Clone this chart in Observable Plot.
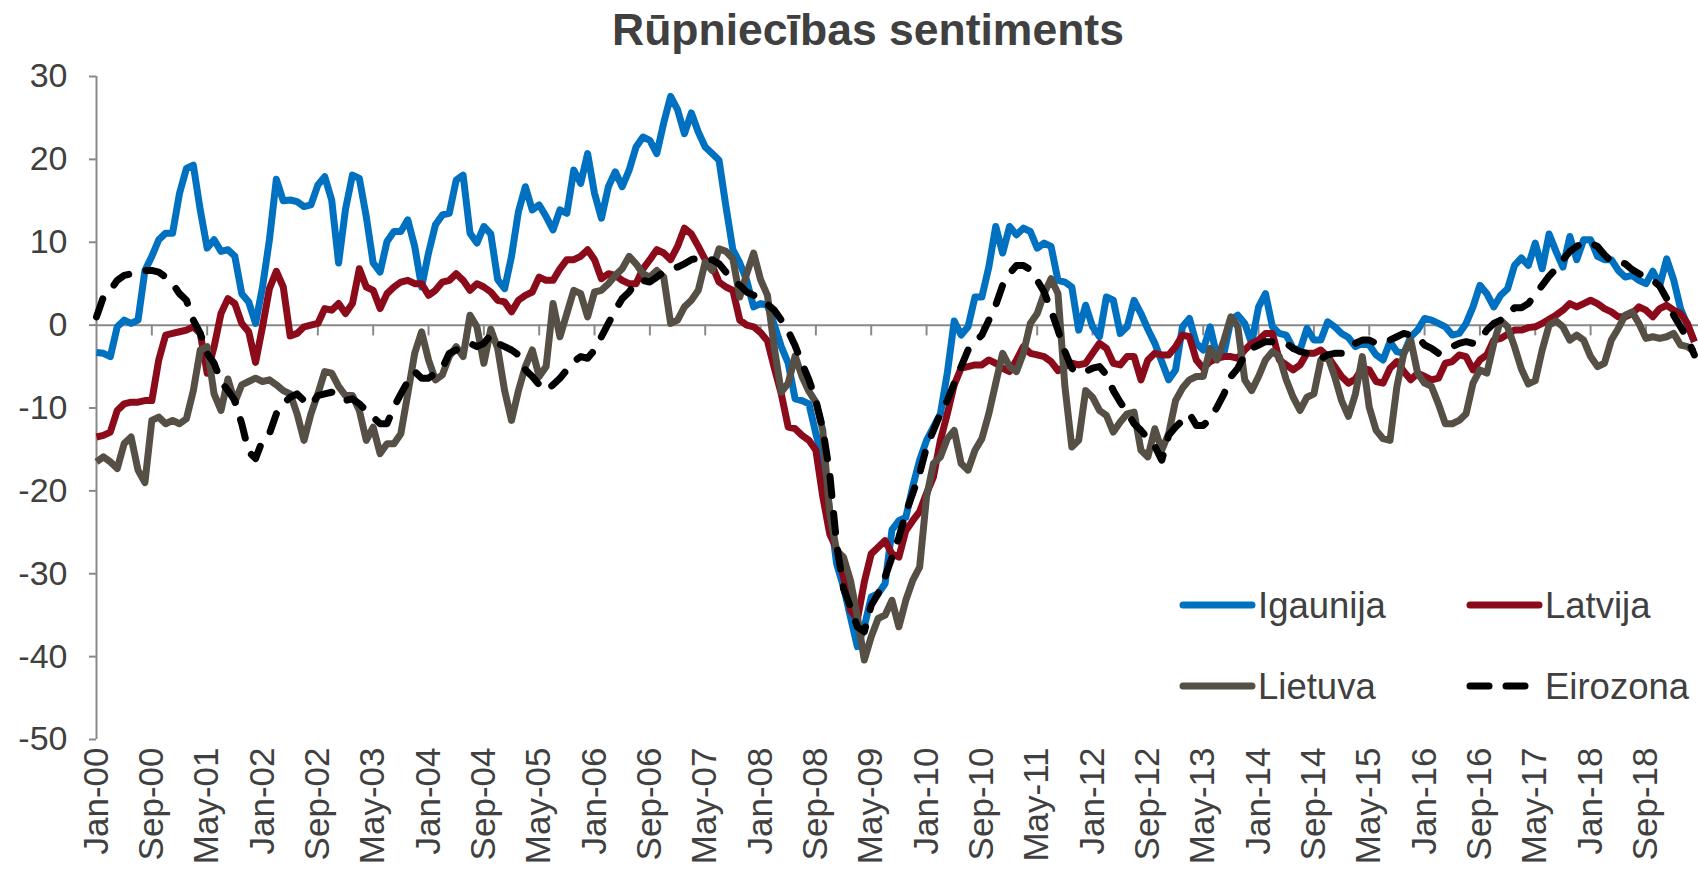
<!DOCTYPE html>
<html><head><meta charset="utf-8">
<script src="https://cdn.jsdelivr.net/npm/d3@7"></script>
<script src="https://cdn.jsdelivr.net/npm/@observablehq/plot@0.6"></script>
<style>
body{margin:0;background:#fff;}
#wrap{position:relative;width:1698px;height:886px;overflow:hidden;font-family:"Liberation Sans",Arial,sans-serif;}
#title{position:absolute;top:8px;left:868px;transform:translateX(-50%);font-size:44.5px;line-height:44.5px;font-weight:bold;color:#404040;white-space:nowrap;}
#legend{position:absolute;left:0;top:0;pointer-events:none;}
</style></head><body><div id="wrap"><div id="title">Rūpniecības sentiments</div></div>
<script>
const seriesNames = ["Igaunija", "Latvija", "Lietuva", "Eirozona"];
const seriesColors = ["#0070C0", "#8B0B1A", "#564F45", "#000000"];
const tickLabels = ["Jan-00","Sep-00","May-01","Jan-02","Sep-02","May-03","Jan-04","Sep-04","May-05","Jan-06","Sep-06","May-07","Jan-08","Sep-08","May-09","Jan-10","Sep-10","May-11","Jan-12","Sep-12","May-13","Jan-14","Sep-14","May-15","Jan-16","Sep-16","May-17","Jan-18","Sep-18"];
const yTicks = [-50,-40,-30,-20,-10,0,10,20,30];

const igaunija = [
-3.3,-3.4,-3.8,-0.2,0.6,0.2,0.6,6.6,8.3,10.3,
11.1,11.1,15.9,18.9,19.3,13.9,9.3,10.3,8.9,9.1,
8.3,3.8,2.8,0.2,4.6,10.3,17.6,15.0,15.1,14.9,
14.3,14.5,16.9,17.9,15.1,7.5,14,18.1,17.7,13.1,
7.5,6.4,10.1,11.3,11.3,12.7,9.5,4.6,8.7,12.1,
13.3,13.5,17.5,18.1,11.1,9.9,11.9,11,5.5,4.4,
8.3,13.7,16.7,13.9,14.5,13.1,11.5,13.9,13.5,18.7,
17.1,20.7,15.9,12.9,16.7,18.5,16.7,18.7,21.5,22.7,
22.3,20.7,24.4,27.6,26,23.1,25.6,23.3,21.5,20.7,
19.9,14.3,9.1,7.5,5.4,2.2,2.6,2.4,0,-2.6,
-4.6,-8.9,-9.1,-9.5,-13.1,-16.3,-22.3,-28.8,-31.6,-35.2,
-38.8,-36.4,-32.8,-32.4,-31.2,-24.7,-23.6,-23.2,-19.5,-16.3,
-13.9,-12.3,-10.7,-5.8,0.5,-1.2,-0.2,3.4,3.4,7,
11.9,8.7,11.9,10.9,11.7,11.3,9.3,9.9,9.5,5.4,
5.2,4.6,-0.6,2.4,-0.2,-1.4,3.4,3,-1,-0.2,
3,1.4,-0.5,-2.2,-4.4,-6.6,-5.4,-0.2,0.8,-2.2,
-3,-0.2,-3.8,-3.4,0.6,1.2,0.2,-2.2,2.2,3.8,
-0.2,-1,-1.2,-2.8,-3,-0.4,-1.8,-1.8,0.4,-0.2,
-1,-1.5,-2.6,-2.2,-2.4,-3.6,-4.2,-2,-3.2,-3.4,
-1.4,-0.6,0.8,0.6,0.2,-0.2,-1.2,-1,0.2,2.2,
4.8,3.8,2.2,3.6,4.4,7.2,8.1,7.2,9.9,6.8,
11,8.9,7,10.7,7.9,10.3,10.3,8.3,7.9,7.9,
6.6,5.8,6,5.4,5,6.5,4.8,8,5.5,2,
0,-2];

const latvija = [
-13.5,-13.3,-12.9,-10.3,-9.5,-9.3,-9.3,-9.1,-9.1,-4.2,
-1.2,-1,-0.8,-0.6,-0.2,-1,-5.8,-2.6,1.4,3.2,
2.6,0.2,-0.8,-4.5,-0.2,4.4,6.5,4.6,-1.3,-1,
-0.2,0,0.2,2,1.8,2.6,1.4,2.6,6.8,4.6,
4.2,2,3.8,4.6,5.2,5.4,5,5,3.6,4.2,
5.2,5.4,6.2,5.4,4.2,5,4.6,4,3,2.8,
1.6,3,3.6,4,5.8,5.4,5.4,6.8,7.9,7.9,
8.3,9.1,7.9,5.6,6.2,6,5.4,5,5,6.8,
7.9,9.1,8.7,7.9,9.5,11.7,11,9.5,7.9,7.2,
5.2,4.6,4.2,0.6,0,-0.2,-0.9,-1.9,-5.2,-8.3,
-12.3,-12.5,-13.3,-13.9,-15.1,-20.7,-25.2,-27,-30.4,-34.4,
-35.5,-31,-27.6,-26.8,-26,-27.6,-28,-24.8,-23.6,-22.5,
-20.3,-18.3,-13.9,-10.7,-7.2,-5.2,-5,-4.8,-4.8,-4.2,
-4.6,-5.2,-5.6,-4.2,-2.6,-3.4,-3.6,-3.8,-4.4,-5.5,
-5,-4.6,-4.8,-4.6,-3.4,-2.2,-2.8,-4.6,-4.8,-3.8,
-3.8,-6.6,-4.2,-3.4,-3.6,-3.6,-2.6,-1.2,-1.4,-4.2,
-5.2,-4.4,-4,-3.8,-3.8,-4,-3,-2.2,-1.8,-1,
-1,-4.2,-4.8,-5.4,-4.8,-3.4,-3.4,-3,-3.8,-5,
-6.2,-7,-6.5,-5.2,-5.4,-6.8,-7,-5.2,-4.4,-5.6,
-6.6,-5.8,-6.2,-6.6,-6.4,-4.6,-4.4,-3.6,-3.8,-5.4,
-4.2,-3.6,-1.8,-1.6,-1.1,-0.6,-0.6,-0.3,-0.2,0.2,
0.7,1.2,1.8,2.6,2.2,2.6,3,2.6,2,1.6,
1,1,1.4,2.2,1.8,1,2,2.4,1.8,1.4,
0.2,-2];

const lietuva = [
-16.5,-15.9,-16.5,-17.3,-14.3,-13.5,-17.5,-19,-11.5,-11.1,
-11.9,-11.5,-11.9,-11.3,-7.9,-3,-2.6,-8.3,-10.3,-6.5,
-9.3,-7.2,-6.8,-6.4,-6.8,-6.6,-7.2,-7.9,-8.3,-10.7,
-13.9,-10.7,-8.3,-5.6,-5.8,-7.4,-8.5,-8.5,-10.3,-13.9,
-12.3,-15.5,-14.3,-14.3,-13.1,-8.3,-3.4,-0.8,-4.2,-6.6,
-6,-3.8,-2.6,-3.8,1.2,-0.2,-4.6,-0.5,-2.8,-7.9,
-11.5,-7.9,-5,-3,-6.2,-5,2.6,-1.4,1.4,4.2,
3.8,1,4,4.2,5,6,6.8,8.3,7.4,6.2,
5.8,6.6,5.8,0.2,0.6,2.2,3,4.2,7.6,6.6,
9.2,8.9,8,3.4,6.2,8.7,5.5,3.6,-2.8,-8.1,
-7,-3.7,-6.2,-8,-9.3,-12.7,-22.7,-27.2,-28,-30.8,
-35.2,-40.4,-37.6,-35.4,-35,-33.2,-36.4,-33.2,-30.8,-29.2,
-20.7,-16.7,-15.9,-13.7,-12.7,-16.7,-17.5,-15.1,-13.7,-10.7,
-7,-3.4,-5,-5.6,-3.4,0.2,1.4,3.8,5.6,3.8,
-7.4,-14.7,-13.9,-7.9,-8.7,-10.3,-10.9,-12.9,-11.7,-10.7,
-10.5,-15.1,-15.9,-12.5,-15.1,-13.1,-9.1,-7.6,-6.6,-6.2,
-6.2,-2.8,-4.2,-1.8,1,-0.2,-6.6,-7.9,-6.2,-4.2,
-3.2,-3.8,-6.6,-8.7,-10.3,-8.7,-8.3,-4.2,-3.8,-6.2,
-9.1,-11,-8.3,-3.8,-9.9,-12.7,-13.7,-13.9,-7.4,-3.4,
-1.8,-5.8,-7,-7.4,-9.5,-11.9,-11.9,-11.5,-10.7,-7,
-5.4,-5.8,-2.2,0.6,-0.2,-2.6,-5.3,-7.1,-6.7,-3,
0,0.5,-0.2,-1.8,-1.2,-1.8,-3.8,-5,-4.6,-1.8,
-0.4,1.2,1.6,0.2,-1.6,-1.4,-1.6,-1.4,-1,-2.4,
-2.6,-3.2];

const eirozona = [
1,3.4,4.2,5.4,6,6.2,6.2,6.6,6.6,6.4,
5.8,5,3.8,3,0.6,-1,-3.4,-4.6,-6.8,-7.9,
-9.1,-11.9,-15.3,-16.1,-13.9,-13.1,-10.7,-9.5,-8.7,-8.3,
-9.1,-9.7,-8.5,-8.3,-8.1,-8.3,-9.1,-8.9,-9.5,-10.3,
-11.1,-11.9,-11.9,-9.9,-8.3,-6.8,-5.6,-6.4,-6.4,-5.8,
-5.2,-3.4,-3,-2.6,-2.2,-2.6,-2.2,-1.2,-2.2,-2.6,
-3,-3.6,-5.4,-6.2,-7.2,-7.9,-7.2,-6.4,-5.4,-4.4,
-3.8,-4,-3,-1.4,0.2,1.8,3.2,4,5.2,5.4,
5.2,5.8,6.4,6.8,7,7.4,7.9,8.1,7.9,7.9,
7.4,6.4,5.4,4.8,4,3.6,3.3,2.5,1.8,0.6,
-0.7,-2.5,-4.6,-6.6,-9.1,-12.5,-17.9,-26.4,-31.8,-34,
-36.4,-37,-33.8,-32.4,-30.4,-28,-25.6,-22.7,-20.3,-17.9,
-14.7,-12.7,-10.7,-9.1,-7,-5,-3,-2,-1.2,0.6,
2.4,4.8,6.2,7.2,7.2,6.7,5.4,4,1.8,-0.6,
-3.2,-5.2,-5.8,-5.6,-5.2,-5,-6,-7.9,-9.3,-10.5,
-11.9,-12.7,-13.7,-14.6,-16.3,-13.3,-12.3,-11.5,-10.7,-12.1,
-12.1,-11.3,-9.9,-8.3,-6.2,-5.2,-3.6,-2.8,-2.4,-2,
-2,-2,-2.2,-2.8,-3.2,-3.4,-3.8,-4,-3.6,-3.4,
-3.4,-2.5,-2.2,-1.8,-1.8,-2.2,-2.2,-1.8,-1.4,-1,
-1.2,-1.4,-2.4,-2.8,-3.4,-3,-2.6,-2.2,-2,-2.2,
-1.8,-0.6,0.2,0.6,1.2,2.1,2.1,2.6,3.7,4.8,
5.9,6.8,7.9,8.9,9.5,10,9.9,9.5,8.5,7.7,
7.7,7.4,6.7,6.2,5.8,5.4,4.7,3.2,1.2,-0.2,
-1.6,-3.6];

const allSeries = [igaunija, latvija, lietuva, eirozona];
const tickMonths = tickLabels.map((d, i) => i * 8);
const toRows = (vals, name) => vals.map((v, m) => ({m, v, series: name}));

const axisGray = "#898989";
const textGray = "#404040";

const lineMarks = allSeries.map((vals, i) => Plot.line(toRows(vals, seriesNames[i]), {
  x: "m", y: "v",
  stroke: seriesColors[i],
  strokeWidth: 7,
  strokeLinejoin: "round",
  strokeLinecap: i === 3 ? "round" : "butt",
  strokeDasharray: i === 3 ? "19,18" : null
}));

const chart = Plot.plot({
  width: 1698, height: 886,
  marginLeft: 96, marginRight: 0, marginTop: 76, marginBottom: 147,
  x: {domain: [0, 231.6], axis: null},
  y: {domain: [-50, 30], axis: null},
  style: {fontFamily: "'Liberation Sans', Arial, sans-serif", background: "#fff", color: textGray},
  marks: [
    Plot.ruleY([0], {stroke: axisGray, strokeWidth: 2}),
    Plot.ruleX(tickMonths.slice(1), {x: d => d, y1: 0, y2: -1.3, stroke: axisGray, strokeWidth: 2}),
    Plot.axisY({ticks: yTicks, label: null, tickFormat: d => String(d), tickSize: 7, tickPadding: 22, fontSize: 34, stroke: axisGray, strokeWidth: 2, color: textGray, fill: textGray}),
    Plot.ruleX([0], {y1: -50, y2: 30, stroke: axisGray, strokeWidth: 2}),
    Plot.axisX({ticks: tickMonths, label: null, tickFormat: (d) => tickLabels[Math.round(d / 8)], tickRotate: -90, tickSize: 0, tickPadding: 8, fontSize: 35, color: textGray, fill: textGray}),
    ...lineMarks
  ]
});
const wrap = document.getElementById("wrap");
wrap.insertBefore(chart, wrap.firstChild);

// legend overlay
const leg = d3.select(wrap).append("svg").attr("id", "legend").attr("width", 1698).attr("height", 886);
const legItems = [
  {i: 0, x: 1180, y: 605},
  {i: 1, x: 1467, y: 605},
  {i: 2, x: 1180, y: 686},
  {i: 3, x: 1467, y: 686}
];
legItems.forEach(({i, x, y}) => {
  const g = leg.append("g");
  g.append("line").attr("x1", x + 3).attr("x2", x + 72).attr("y1", y).attr("y2", y)
    .attr("stroke", seriesColors[i]).attr("stroke-width", 7).attr("stroke-linecap", "round")
    .attr("stroke-dasharray", i === 3 ? "19,17" : null);
  g.append("text").attr("x", x + 78).attr("y", y + 13).attr("fill", textGray)
    .attr("font-size", 36.5).attr("font-family", "'Liberation Sans', Arial, sans-serif")
    .text(seriesNames[i]);
});
</script></body></html>
